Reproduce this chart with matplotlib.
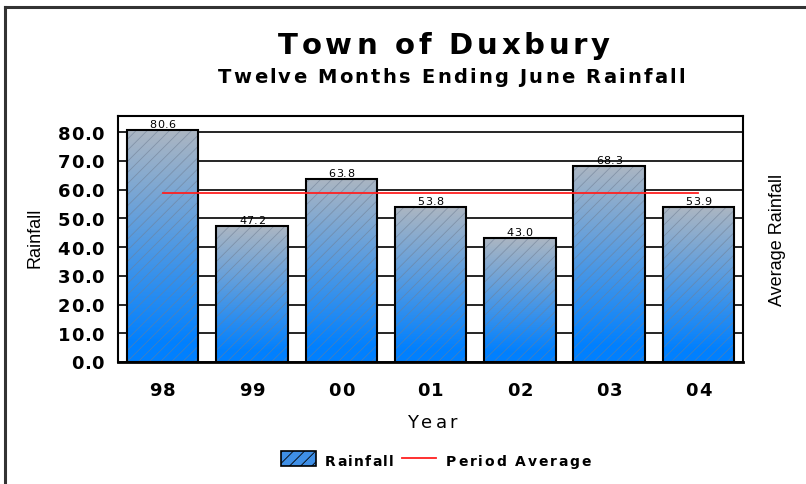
import numpy as np
import matplotlib.pyplot as plt
from matplotlib.lines import Line2D
from matplotlib.patches import Rectangle
from matplotlib.transforms import IdentityTransform
from matplotlib.font_manager import findfont, FontProperties
from matplotlib import ft2font

years = ['98', '99', '00', '01', '02', '03', '04']
rainfall = [80.6, 47.2, 63.8, 53.8, 43.0, 68.3, 53.9]
yticks = [0, 10, 20, 30, 40, 50, 60, 70, 80]

plt.rcParams['font.family'] = ['Liberation Sans', 'DejaVu Sans']
plt.rcParams['hatch.linewidth'] = 0.6
WIDE = 'DejaVu Sans'   # wider letters, closer to the stretched original

W, H = 806, 485
fig = plt.figure(figsize=(W / 100, H / 100), dpi=100)
ax = fig.add_axes([118/W, 122/H, 625/W, 246/H])

_fonts = {}
try:
    NO_SCALE = ft2font.LoadFlags.NO_SCALE
except AttributeError:
    NO_SCALE = ft2font.LOAD_NO_SCALE


def char_advances(s, size, weight):
    if weight not in _fonts:
        _fonts[weight] = ft2font.FT2Font(findfont(FontProperties(family=WIDE, weight=weight)))
    f = _fonts[weight]
    out = []
    for c in s:
        g = f.load_char(ord(c), flags=NO_SCALE)
        out.append(g.horiAdvance / f.units_per_EM * size * 100 / 72)
    return out


def spaced(x, y, s, size, track=0, weight='normal', ha='center', width=None):
    # x, y in display pixels, y is the baseline; letters spread like the original
    adv = char_advances(s, size, weight)
    if width is not None and len(s) > 1:
        track = (width - sum(adv)) / (len(s) - 1)
    total = sum(adv) + track * (len(s) - 1)
    pos = {'center': x - total / 2, 'right': x - total, 'left': x}[ha]
    for c, a in zip(s, adv):
        if c != ' ':
            fig.text(pos, y, c, transform=IdentityTransform(), fontsize=size,
                     fontweight=weight, family=WIDE, va='baseline', ha='left')
        pos += a + track


x = np.arange(len(years))
avg = np.mean(rainfall)

ax.set_xlim(-0.5, len(years) - 0.5)
ax.set_ylim(0, 85.6)

# gradient: grey-blue on top to bright blue at bottom
top_c = np.array([172, 182, 194]) / 255
bot_c = np.array([0, 128, 255]) / 255
t = np.linspace(0, 1, 256)
t = np.clip((t - 0.08) / 0.92, 0, 1)
grad = bot_c[None, :] + (top_c - bot_c)[None, :] * t[:, None]
grad = grad[:, None, :]

bars = ax.bar(x, rainfall, width=0.8, color='none', edgecolor='none', zorder=2)
for b in bars:
    x0, w, h = b.get_x(), b.get_width(), b.get_height()
    im = ax.imshow(grad, extent=(x0, x0 + w, 0, h), origin='lower',
                   aspect='auto', zorder=2, interpolation='bilinear')
    im.set_clip_path(b)
ax.bar(x, rainfall, width=0.8, color='none', edgecolor='#6f7f95', hatch='///',
       linewidth=0, alpha=0.6, zorder=3)
ax.bar(x, rainfall, width=0.8, color='none', edgecolor='black', linewidth=1.5, zorder=4)

ax.plot([x[0], x[-1]], [avg, avg], color='#ff2020', lw=1.3, zorder=5)

ax.set_xlim(-0.5, len(years) - 0.5)
ax.set_ylim(0, 85.6)
ax.set_yticks(yticks)
ax.set_xticks(x)
ax.set_xticklabels([])
ax.set_yticklabels([])
ax.tick_params(length=0)
ax.set_axisbelow(True)
ax.yaxis.grid(True, color='black', lw=1.2)
for s in ax.spines.values():
    s.set_linewidth(1.5)
ax.spines['bottom'].set_linewidth(2)

# tick labels and value labels
ax_left, ax_bottom = ax.transAxes.transform((0, 0))
for v in yticks:
    py = ax.transData.transform((0, v))[1]
    spaced(ax_left - 14, py - 6.5, f'{v:.1f}', 13, track=0.6, weight='bold', ha='right')
for xi, lab, v in zip(x, years, rainfall):
    px, py = ax.transData.transform((xi, v))
    spaced(px, ax_bottom - 33, lab, 13, track=1, weight='bold')
    spaced(px, py + 3, f'{v:.1f}', 8, track=0.4)

spaced(432, H - 428, 'Year', 13, width=50)
fig.text(35/W, 1 - 238/H, 'Rainfall', rotation=90, fontsize=13, ha='center', va='center')
fig.text(777/W, 1 - 240/H, 'Average Rainfall', rotation=90, fontsize=13,
         ha='center', va='center')

spaced(444, H - 54, 'Town of Duxbury', 21, weight='bold', width=332)
spaced(451.5, H - 83, 'Twelve Months Ending June Rainfall', 14, weight='bold', width=467)

# legend
fig.add_artist(Rectangle((281, H - 467), 35, 15, facecolor='#3f8fe6', edgecolor='black',
                         lw=1.2, hatch='///', transform=IdentityTransform()))
fig.add_artist(Line2D([402, 436], [H - 459, H - 459], color='#ff2020', lw=1.3,
                      transform=IdentityTransform()))
spaced(325, H - 466, 'Rainfall', 10, weight='bold', ha='left', width=69)
spaced(446, H - 466, 'Period Average', 10, weight='bold', ha='left', width=145)

# outer frame (only left and top visible)
fig.add_artist(Line2D([4.5/W, 4.5/W], [0, 1 - 7.5/H], color='#333333', lw=2.2,
                      transform=fig.transFigure))
fig.add_artist(Line2D([4.5/W, 1], [1 - 7.5/H, 1 - 7.5/H], color='#333333', lw=2.2,
                      transform=fig.transFigure))

fig.savefig('out.png', dpi=100)
